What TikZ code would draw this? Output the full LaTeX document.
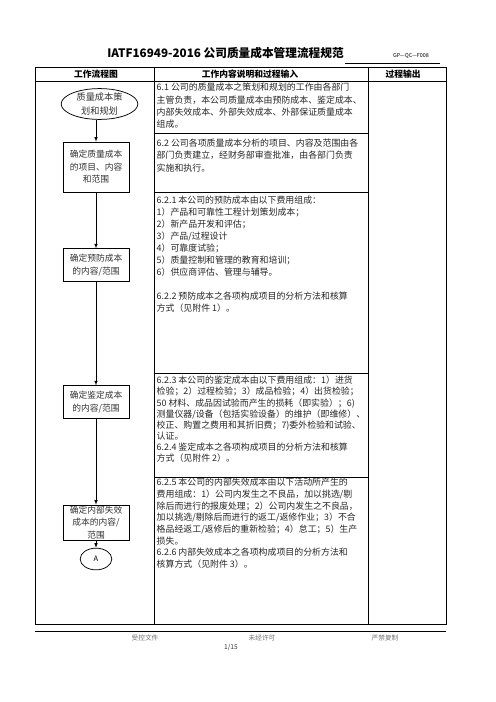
\documentclass[tikz,border=0pt]{standalone}
\usepackage{fontspec}
\setmainfont{Noto Sans CJK SC}
\usetikzlibrary{shapes.geometric}

\tikzset{
  flowbox/.style={draw, line width=0.9pt, minimum width=79pt, inner sep=0pt, align=center, font=\fontsize{10.5}{15}\selectfont, text=black!80},
  flowarrow/.style={line width=0.9pt, -latex},
  rule/.style={line width=0.9pt},
  desc/.style={anchor=north west, inner sep=0pt, align=left, text=black!85},
  headtext/.style={font=\fontsize{10.5}{12}\selectfont\bfseries},
  foot/.style={font=\fontsize{8}{10}\selectfont, text=black!55},
}

\begin{document}
\begin{tikzpicture}[x=1.2pt, y=-1.2pt]
    \fill[white] (0,0) rectangle (496,702);
    \useasboundingbox (0,0) rectangle (496,702);

    % title
    \node[font=\fontsize{14}{16}\selectfont\bfseries] (title) at (225.5,53) {IATF16949-2016 公司质量成本管理流程规范};
    \node[font=\fontsize{6.5}{8}\selectfont] (docno) at (411,56) {GP—QC—F008};
    \draw[line width=0.5pt] (345,63) -- (440,63);

    % table
    \draw[rule] (35,67) rectangle (446,624);
    \draw[rule] (35,81.5) -- (446,81.5);
    \draw[rule] (154.5,67) -- (154.5,624);
    \draw[rule] (368.5,67) -- (368.5,624);
    \foreach \y in {133,192,373,477}
        \draw[rule] (154.5,\y) -- (368.5,\y);

    \node[headtext] (hflow) at (96,74.5) {工作流程图};
    \node[headtext] (hdesc) at (250,74.5) {工作内容说明和过程输入};
    \node[headtext] (hout) at (403,74.5) {过程输出};

    % flow chart
    \node[ellipse, draw, line width=0.9pt, minimum width=92pt, minimum height=34pt, inner sep=0pt, align=center, font=\fontsize{11}{16}\selectfont, text=black!80] (plan) at (99.5,104) {质量成本策\\划和规划};
    \node[flowbox, minimum height=60pt] (items) at (96,167) {确定质量成本\\的项目、内容\\和范围};
    \node[flowbox, minimum height=39pt] (prevent) at (96,265) {确定预防成本\\的内容/范围};
    \node[flowbox, minimum height=39pt] (appraise) at (96,402) {确定鉴定成本\\的内容/范围};
    \node[flowbox, minimum height=42pt] (failure) at (96,522.5) {确定内部失效\\成本的内容/\\范围};
    \node[ellipse, draw, line width=0.9pt, minimum width=38pt, minimum height=26pt, inner sep=0pt, font=\fontsize{9}{10}\selectfont] (conA) at (96,559) {A};

    \draw[flowarrow] (plan.south -| items.north) -- (items.north);
    \draw[flowarrow] (items) -- (prevent);
    \draw[flowarrow] (prevent) -- (appraise);
    \draw[flowarrow] (appraise) -- (failure);
    \draw[flowarrow] (failure) -- (conA);

    % description column
    \node[desc, font=\fontsize{10.7}{14.9}\selectfont] (d61) at (156.5,83) {6.1 公司的质量成本之策划和规划的工作由各部门\\主管负责，本公司质量成本由预防成本、鉴定成本、\\内部失效成本、外部失效成本、外部保证质量成本\\组成。};
    \node[desc, font=\fontsize{10.7}{15}\selectfont] (d62) at (156.5,138.5) {6.2 公司各项质量成本分析的项目、内容及范围由各\\部门负责建立，经财务部审查批准，由各部门负责\\实施和执行。};
    \node[desc, font=\fontsize{10.7}{14.4}\selectfont] (d621) at (156.5,195.5) {6.2.1 本公司的预防成本由以下费用组成：\\1）产品和可靠性工程计划策划成本；\\2）新产品开发和评估；\\3）产品/过程设计\\4）可靠度试验；\\5）质量控制和管理的教育和培训；\\6）供应商评估、管理与辅导。\\[14.4pt]6.2.2 预防成本之各项构成项目的分析方法和核算\\方式（见附件 1）。};
    \node[desc, font=\fontsize{10.7}{13.4}\selectfont] (d623) at (156.5,376) {6.2.3 本公司的鉴定成本由以下费用组成：1）进货\\检验；2）过程检验；3）成品检验；4）出货检验；\\50 材料、成品因试验而产生的损耗（即实验）；6)\\测量仪器/设备（包括实验设备）的维护（即维修）、\\校正、购置之费用和其折旧费；7)委外检验和试验、\\认证。\\6.2.4 鉴定成本之各项构成项目的分析方法和核算\\方式（见附件 2）。};
    \node[desc, font=\fontsize{10.7}{14}\selectfont] (d625) at (156.5,478) {6.2.5 本公司的内部失效成本由以下活动所产生的\\费用组成：1）公司内发生之不良品，加以挑选/剔\\除后而进行的报废处理；2）公司内发生之不良品，\\加以挑选/剔除后而进行的返工/返修作业；3）不合\\格品经返工/返修后的重新检验；4）怠工；5）生产\\损失。\\6.2.6 内部失效成本之各项构成项目的分析方法和\\核算方式（见附件 3）。};

    % footer
    \draw[line width=0.5pt] (35,631) -- (446,631);
    \node[foot] (fctrl) at (145,638) {受控文件};
    \node[foot] (fperm) at (262,638) {未经许可};
    \node[foot] (fcopy) at (385,638) {严禁复制};
    \node[foot, text=black!80] (fpage) at (231,647) {1/15};
\end{tikzpicture}
\end{document}
